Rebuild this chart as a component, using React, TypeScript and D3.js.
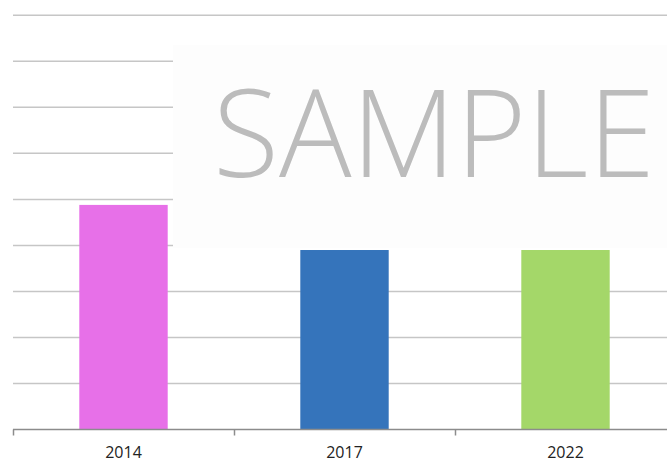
import React from "react";
import * as d3 from "d3";

const categories = ["2014", "2017", "2022"];
const values = [4.88, 3.9, 3.9];
const colors = ["#e770e8", "#3574bb", "#a4d769"];
const yTicks = [0, 1, 2, 3, 4, 5, 6, 7, 8, 9];
const watermark = "SAMPLE";

export default function App() {
  const W = 667;
  const H = 460;
  const x = d3
    .scaleBand<string>()
    .domain(categories)
    .range([13, 676])
    .paddingInner(0.6)
    .paddingOuter(0.3);
  const y = d3.scaleLinear().domain([0, 9]).range([429.5, 15.3]);
  const step = x.step();
  const x0 = 13;

  return (
    <svg
      width={W}
      height={H}
      style={{ position: "absolute", left: 0, top: 0, background: "#ffffff" }}
      fontFamily="'Segoe UI', 'Open Sans', sans-serif"
    >
      {yTicks.slice(1).map((t) => (
        <line
          key={t}
          x1={13}
          x2={W}
          y1={y(t)}
          y2={y(t)}
          stroke="#c6c6c6"
          strokeWidth={1.5}
        />
      ))}
      <rect x={173} y={45} width={W - 173} height={203} fill="#fdfdfd" />
      <text
        x={213}
        y={177}
        fontSize={122}
        fontWeight={300}
        fill="#bcbcbc"
        textLength={442}
        lengthAdjust="spacingAndGlyphs"
        fontFamily="'Open Sans', sans-serif"
      >
        {watermark}
      </text>
      {categories.map((c, i) => (
        <rect
          key={c}
          x={x(c)}
          y={y(values[i])}
          width={x.bandwidth()}
          height={y(0) - y(values[i])}
          fill={colors[i]}
        />
      ))}
      <line x1={13} x2={W} y1={y(0)} y2={y(0)} stroke="#8c8c8c" strokeWidth={1.5} />
      {d3.range(categories.length + 1).map((i) => (
        <line
          key={i}
          x1={x0 + i * step + 0.5}
          x2={x0 + i * step + 0.5}
          y1={y(0)}
          y2={y(0) + 6}
          stroke="#8c8c8c"
          strokeWidth={1.5}
        />
      ))}
      {categories.map((c) => (
        <text
          key={c}
          x={(x(c) as number) + x.bandwidth() / 2}
          y={458}
          textAnchor="middle"
          fontSize={16}
          fill="#222"
        >
          {c}
        </text>
      ))}
    </svg>
  );
}
